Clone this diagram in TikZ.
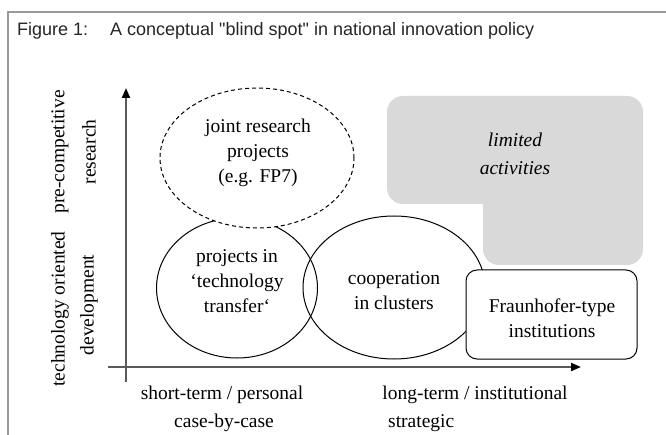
\documentclass[tikz,border=0pt]{standalone}
\usepackage{fontspec}
\setmainfont{Liberation Serif}
\newfontfamily\titlefont{Liberation Sans}
\usetikzlibrary{shapes.geometric,arrows.meta}
\definecolor{framegray}{HTML}{9A9A9A}
\definecolor{axisgray}{HTML}{5A5A5A}
\definecolor{blindgray}{HTML}{D9D9D9}
\begin{document}
\begin{tikzpicture}[x=1pt,y=-1pt,
  frameline/.style={draw=framegray, line width=1.6pt},
  axisline/.style={draw=axisgray, line width=2pt, -{Triangle[length=10pt,width=8pt,color=black]}},
  blob/.style={ellipse, draw=black, line width=1pt, inner sep=0pt},
  lbl/.style={font=\fontsize{19.5}{25}\selectfont, align=center, inner sep=0pt},
  titletext/.style={font=\titlefont\fontsize{18}{20}\selectfont, inner sep=0pt, anchor=base west, text=black!85}
]
\useasboundingbox (0,0) rectangle (666,435);
\fill[white] (0,0) rectangle (666,435);

% frame
\coordinate (fr1) at (666,12);
\coordinate (fr2) at (8,12);
\coordinate (fr3) at (8,435);
\draw[frameline] (fr1) -- (fr2) -- (fr3);

% title
\node[titletext] (fig) at (17,36) {Figure 1:};
\node[titletext] (title) at (110,36) {A conceptual "blind spot" in national innovation policy};

% blind spot region
\fill[blindgray] (483,204) [rounded corners=16pt] -- (387,204) -- (387,96) -- (643,96) -- (643,265) -- (483,265) -- (483,204);
\node[lbl, font=\itshape\fontsize{19.5}{28}\selectfont] (limited) at (515,154) {limited\\activities};

% axes
\coordinate (yb) at (126,382);
\coordinate (yt) at (126,88);
\coordinate (xl) at (108,367);
\coordinate (xr) at (581,367);
\draw[axisline] (yb) -- (yt);
\draw[axisline] (xl) -- (xr);

% circles
\node[blob, minimum width=161pt, minimum height=140pt] (ttc) at (237,288) {};
\node[blob, minimum width=182pt, minimum height=143pt] (clc) at (394,287.5) {};
\node[blob, dashed, dash pattern=on 4pt off 3pt, fill=white, minimum width=194pt, minimum height=140pt] (jrc) at (257,158) {};
\node[draw=black, line width=1pt, fill=white, rounded corners=11pt, minimum width=171pt, minimum height=89pt, inner sep=0pt] (fhb) at (551.5,314.5) {};

% texts inside shapes
\node[lbl] (jrt) at (258,153) {joint research\\projects\\(e.g. FP7)};
\node[lbl] (ttt) at (237,281) {projects in\\‘technology\\transfer‘};
\node[lbl] (clt) at (394,291) {cooperation\\in clusters};
\node[lbl] (fht) at (552,318) {Fraunhofer-type\\institutions};

% axis labels
\node[lbl, rotate=90] (pc) at (60,152) {pre-competitive};
\node[lbl, rotate=90] (rs) at (89,152) {research};
\node[lbl, rotate=90] (to) at (60,309) {technology oriented};
\node[lbl, rotate=90] (dv) at (89,305) {development};
\node[lbl] (st) at (222,395) {short-term / personal};
\node[lbl] (cc) at (224,423) {case-by-case};
\node[lbl] (lt) at (475,395) {long-term / institutional};
\node[lbl, anchor=west] (sg) at (388,423) {strategic};
\end{tikzpicture}
\end{document}
